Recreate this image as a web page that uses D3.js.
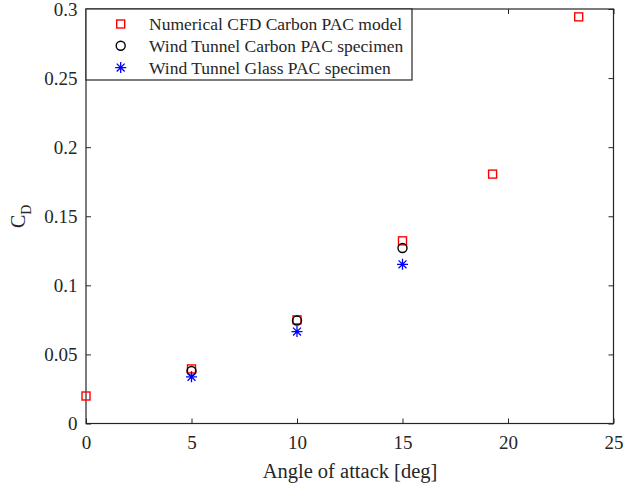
<!DOCTYPE html>
<html>
<head>
<meta charset="utf-8">
<script src="https://cdn.jsdelivr.net/npm/d3@7"></script>
<style>
  body { margin: 0; background: #fff; }
  svg text { font-family: "Liberation Serif", "DejaVu Serif", serif; fill: #262626; }
</style>
</head>
<body>
<svg id="chart" width="626" height="491"></svg>
<script>
// data
var cfdAngle = [0, 5, 10, 15, 19.27, 23.35];
var cfdCd    = [0.0199, 0.0395, 0.0750, 0.1322, 0.1805, 0.2943];
var carbonAngle = [5, 10, 15];
var carbonCd    = [0.0380, 0.0745, 0.1270];
var glassAngle = [5, 10, 15];
var glassCd    = [0.0338, 0.0665, 0.1152];
var xTicks = [0, 5, 10, 15, 20, 25];
var yTicks = [0, 0.05, 0.1, 0.15, 0.2, 0.25, 0.3];
var legendLabels = ["Numerical CFD Carbon PAC model", "Wind Tunnel Carbon PAC specimen", "Wind Tunnel Glass PAC specimen"];

var svg = d3.select("#chart");
var plotLeft = 86, plotRight = 613.5, plotTop = 9, plotBottom = 423.5;
var axisColor = "#262626";

var x = d3.scaleLinear().domain([0, 25]).range([plotLeft, plotRight]);
var y = d3.scaleLinear().domain([0, 0.3]).range([plotBottom, plotTop]);

//坐标轴 (ticks inside, box all round)
function axisStyle(g){
    g.select(".domain").remove();
    g.selectAll("line").attr("stroke", axisColor).attr("stroke-width", 1);
    g.selectAll("text").style("font-size", "19px").attr("fill", axisColor);
}
svg.append("g").attr("transform", `translate(0,${plotBottom})`)
    .call(d3.axisBottom(x).tickValues(xTicks).tickSizeInner(-5).tickSizeOuter(0).tickPadding(12.5).tickFormat(d3.format("")))
    .call(axisStyle);
svg.append("g").attr("transform", `translate(0,${plotTop})`)
    .call(d3.axisTop(x).tickValues(xTicks).tickSizeInner(-5).tickSizeOuter(0).tickFormat(""))
    .call(axisStyle);
svg.append("g").attr("transform", `translate(${plotLeft},0)`)
    .call(d3.axisLeft(y).tickValues(yTicks).tickSizeInner(-5).tickSizeOuter(0).tickPadding(8.5).tickFormat(d3.format("")))
    .call(axisStyle);
svg.append("g").attr("transform", `translate(${plotRight},0)`)
    .call(d3.axisRight(y).tickValues(yTicks).tickSizeInner(-5).tickSizeOuter(0).tickFormat(""))
    .call(axisStyle);

svg.append("rect")
    .attr("x", plotLeft).attr("y", plotTop)
    .attr("width", plotRight - plotLeft).attr("height", plotBottom - plotTop)
    .attr("fill", "none").attr("stroke", axisColor).attr("stroke-width", 1.2);

//轴标题
svg.append("text")
    .attr("x", 350).attr("y", 478)
    .attr("text-anchor", "middle").style("font-size", "20.5px")
    .text("Angle of attack [deg]");

var ylab = svg.append("text")
    .attr("transform", `translate(25,${(plotTop + plotBottom) / 2}) rotate(-90)`)
    .attr("text-anchor", "middle").style("font-size", "20px");
ylab.append("tspan").text("C");
ylab.append("tspan").attr("dy", 6).style("font-size", "14px").text("D");

//标记
function square(g, cx, cy){
    g.append("rect").attr("x", cx - 4).attr("y", cy - 4).attr("width", 8).attr("height", 8)
        .attr("fill", "none").attr("stroke", "#ff0000").attr("stroke-width", 1.4);
}
function circle(g, cx, cy){
    g.append("circle").attr("cx", cx).attr("cy", cy).attr("r", 4.5)
        .attr("fill", "none").attr("stroke", "#000").attr("stroke-width", 1.4);
}
function star(g, cx, cy){
    var r = 5.5;
    var p = d3.path();
    p.moveTo(cx - r, cy); p.lineTo(cx + r, cy);
    p.moveTo(cx, cy - r); p.lineTo(cx, cy + r);
    var d = r * 0.72;
    p.moveTo(cx - d, cy - d); p.lineTo(cx + d, cy + d);
    p.moveTo(cx - d, cy + d); p.lineTo(cx + d, cy - d);
    g.append("path").attr("d", p.toString()).attr("stroke", "#0000ff").attr("stroke-width", 1.3).attr("fill", "none");
}

var marks = svg.append("g");
cfdAngle.forEach((a, i) => square(marks, x(a), y(cfdCd[i])));
carbonAngle.forEach((a, i) => circle(marks, x(a), y(carbonCd[i])));
glassAngle.forEach((a, i) => star(marks, x(a), y(glassCd[i])));

//图例
var legend = svg.append("g");
legend.append("rect")
    .attr("x", plotLeft).attr("y", plotTop).attr("width", 326).attr("height", 71)
    .attr("fill", "#fff").attr("stroke", axisColor).attr("stroke-width", 1.2);
var markers = [square, circle, star];
legendLabels.forEach((t, i) => {
    var ly = 24 + i * 21.8;
    markers[i](legend, 120.7, ly);
    legend.append("text").attr("x", 149).attr("y", ly + 6)
        .style("font-size", "17.5px").text(t);
});
</script>
</body>
</html>
